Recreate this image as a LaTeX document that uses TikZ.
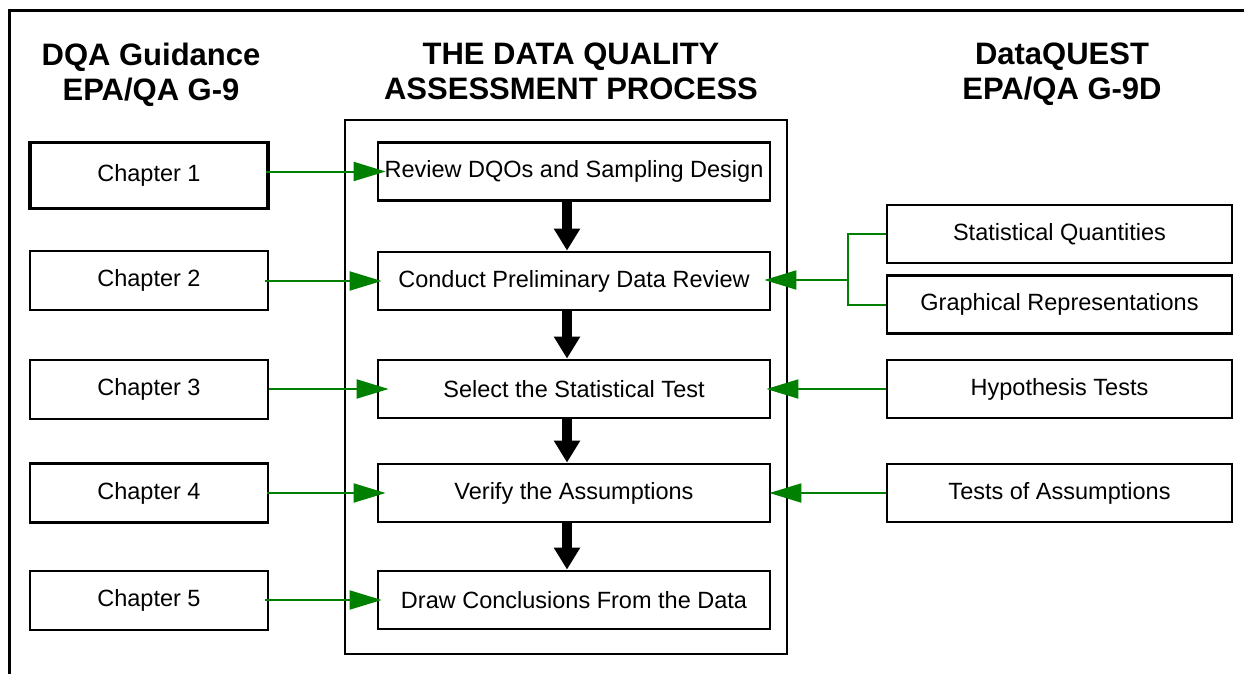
\documentclass[tikz,border=0pt]{standalone}
\usepackage{fontspec}
\setmainfont{Liberation Sans}
\usetikzlibrary{positioning,calc,arrows.meta}
\definecolor{linkgreen}{RGB}{0,128,0}

\begin{document}
\begin{tikzpicture}[x=1pt,y=-1pt,
        box/.style={draw, rectangle, line width=2.8pt, align=center, inner sep=0pt, font=\fontsize{23.5}{28}\selectfont},
        chap node/.style={box, minimum width=238pt, minimum height=59pt},
        stage node/.style={box, minimum width=392pt, minimum height=58pt},
        tool node/.style={box, minimum width=345pt, minimum height=58pt},
        head node/.style={align=center, inner sep=0pt, anchor=north, font=\fontsize{31}{35}\selectfont\bfseries},
        link/.style={draw=linkgreen, line width=2pt},
        link arrow/.style={link, -{Triangle[length=32pt, width=19pt, fill=linkgreen]}},
        flow/.style={draw=black, line width=10pt, -{Triangle[length=22pt, width=25pt]}}]

\useasboundingbox (0,0) rectangle (1244,674);
\draw[line width=3pt] (1244,11) -| (9,674);

\node[head node] (left head) at (151,43) {DQA Guidance\\EPA/QA G-9};
\node[head node] (mid head) at (571,43) {THE DATA QUALITY\\ASSESSMENT PROCESS};
\node[head node] (right head) at (1062,43) {DataQUEST\\EPA/QA G-9D};

\node[draw, line width=2.5pt, minimum width=442pt, minimum height=534pt] (proc) at (566,387) {};

\node[stage node] (rev) at (574,171.5) {Review DQOs and Sampling Design};
\node[stage node] (con) at (574,281) {Conduct Preliminary Data Review};
\node[stage node] (sel) at (574,389) {Select the Statistical Test};
\node[stage node] (ver) at (574,493) {Verify the Assumptions};
\node[stage node] (drw) at (574,600) {Draw Conclusions From the Data};

\node[chap node, line width=3.5pt, minimum height=66pt] (ch1) at (149,175.5) {Chapter 1};
\node[chap node] (ch2) at (149,280.5) {Chapter 2};
\node[chap node] (ch3) at (149,389.5) {Chapter 3};
\node[chap node] (ch4) at (149,493) {Chapter 4};
\node[chap node] (ch5) at (149,600.5) {Chapter 5};

\node[tool node] (stat) at (1059.5,234) {Statistical Quantities};
\node[tool node] (graph) at (1059.5,304.5) {Graphical Representations};
\node[tool node] (hyp) at (1059.5,389) {Hypothesis Tests};
\node[tool node] (tests) at (1059.5,493) {Tests of Assumptions};

\coordinate (junc) at (848,280);

\draw[flow] ([xshift=-7pt]rev.south) -- ([xshift=-7pt]con.north);
\draw[flow] ([xshift=-7pt]con.south) -- ([xshift=-7pt]sel.north);
\draw[flow] ([xshift=-7pt]sel.south) -- ([xshift=-7pt]ver.north);
\draw[flow] ([xshift=-7pt]ver.south) -- ([xshift=-7pt]drw.north);

\draw[link arrow, shorten >=-9pt] ([xshift=-4pt]ch1.east |- rev.west) -- (rev.west);
\draw[link arrow, shorten >=-5pt] ([xshift=-4pt]ch2.east |- con.west) -- (con.west);
\draw[link arrow, shorten >=-12pt] (ch3.east |- sel.west) -- (sel.west);
\draw[link arrow, shorten >=-9pt] ([xshift=-2pt]ch4.east |- ver.west) -- (ver.west);
\draw[link arrow, shorten >=-5pt] ([xshift=-4pt]ch5.east |- drw.west) -- (drw.west);

\draw[link] (stat.west) -| (junc) |- (graph.west);
\draw[link arrow, shorten >=-7pt] (junc) -- (junc -| con.east);
\draw[link arrow, shorten >=-5pt] (hyp.west) -- (hyp.west -| sel.east);
\draw[link arrow, shorten >=-2pt] (tests.west) -- (tests.west -| ver.east);

\end{tikzpicture}
\end{document}
